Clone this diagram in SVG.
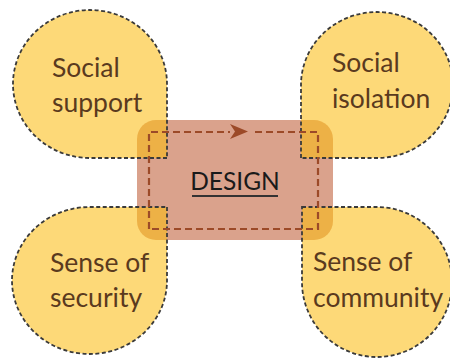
<svg xmlns="http://www.w3.org/2000/svg" width="450" height="358" viewBox="0 0 450 358">
<style>
.blob{fill:#FCBD12;fill-opacity:0.57;stroke:#3a3a3a;stroke-width:1.8;stroke-dasharray:4 2.5}
.lbl{font-family:Lato,"Open Sans",sans-serif;font-size:26.5px;fill:#5A3A1E}
.core{fill:#DAA28C}
.flow{fill:none;stroke:#9C4A28;stroke-width:2.2;stroke-dasharray:7 4}
</style>
<rect width="450" height="358" fill="#ffffff"/>
<g id="design">
<rect class="core" x="137" y="120" width="196" height="120" rx="19"/>
</g>
<g id="social-support">
<path class="blob" d="M167 158 L90 158 A77 74 0 0 1 13 84 A77 74 0 0 1 90 10 A77 74 0 0 1 167 84 Z"/>
<text class="lbl" x="52" y="77">Social</text>
<text class="lbl" x="52" y="112">support</text>
</g>
<g id="social-isolation">
<path class="blob" d="M301 158 L301 85 A76 73 0 0 1 377 12 A76 73 0 0 1 453 85 A76 73 0 0 1 377 158 Z"/>
<text class="lbl" x="332" y="72">Social</text>
<text class="lbl" x="332" y="108">isolation</text>
</g>
<g id="sense-of-security">
<path class="blob" d="M167 207 L167 280.5 A77.5 73.5 0 0 1 89.5 354 A77.5 73.5 0 0 1 12 280.5 A77.5 73.5 0 0 1 89.5 207 Z"/>
<text class="lbl" x="50" y="272">Sense of</text>
<text class="lbl" x="50" y="307">security</text>
</g>
<g id="sense-of-community">
<path class="blob" d="M302 207 L377 207 A75 75 0 0 1 452 282 A75 75 0 0 1 377 357 A75 75 0 0 1 302 282 Z"/>
<text class="lbl" x="313" y="271">Sense of</text>
<text class="lbl" x="313" y="307">community</text>
</g>
<g id="connectors">
<path class="flow" d="M149 229 V132 H230 M255 132 H318 V229 H149"/>
<polygon points="230,124 248,131.5 230,139 235,131.5" fill="#9C4A28"/>
</g>
<g id="design-label">
<text x="235" y="190" text-anchor="middle" font-family="Lato,'Open Sans',sans-serif" font-size="24.5" fill="#1a1a1a">DESIGN</text>
<rect x="192" y="195" width="86" height="2" fill="#333"/>
</g>
</svg>
